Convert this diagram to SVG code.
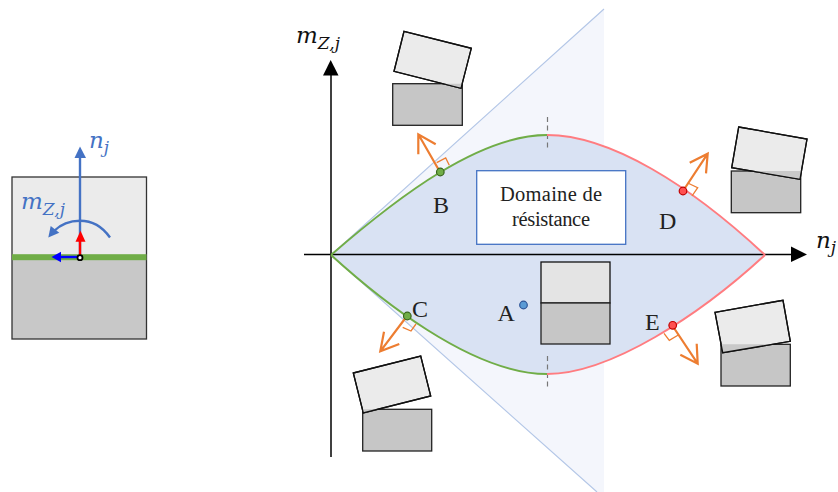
<svg xmlns="http://www.w3.org/2000/svg" width="838" height="492" viewBox="0 0 838 492">
<style>
.lbl{font-family:"Liberation Serif",serif;font-size:24px;fill:#222}
.dom{font-family:"Liberation Serif",serif;font-size:20.5px;fill:#222;text-anchor:middle}
.m{font-family:"DejaVu Serif",serif;font-style:italic;font-size:23px;fill:#111}
.s{font-size:17px}
.lt{fill:#ebebeb;stroke:#111;stroke-width:1.3}
.ol{fill:none;stroke:#111;stroke-width:1.3}
.gr{fill:#c6c6c6;stroke:#222;stroke-width:1.3}
.wd{fill:#c9c9c9}
.or{fill:none;stroke:#ed7d31;stroke-width:2.2}
.sq{fill:none;stroke:#ed7d31;stroke-width:1.3}
.ax{fill:none;stroke:#000;stroke-width:1.5}
.dash{stroke:#777;stroke-width:1.2;stroke-dasharray:5 3.5;fill:none}
</style>
<g id="section-view">
<rect x="12" y="177" width="134.500" height="81" fill="#ebebeb"/>
<rect x="12" y="258" width="134.500" height="81" fill="#c8c8c8"/>
<rect x="12" y="177" width="134.500" height="162" fill="none" stroke="#333" stroke-width="1.300"/>
<rect x="12" y="254.200" width="134.500" height="6" fill="#70ad47"/>
<path d="M80 258V157" stroke="#4472c4" stroke-width="2.400" fill="none"/>
<path d="M80 146.500L86 158H74.500Z" fill="#4472c4"/>
<path d="M110 237.500C102 226 91 220.700 80 220.700C70 220.700 61 224 54 231" stroke="#4472c4" stroke-width="2.400" fill="none"/>
<path d="M48.300 237.500L50.700 226L59.300 232.700Z" fill="#4472c4"/>
<path d="M80 258V240" stroke="#ff0000" stroke-width="2.400" fill="none"/>
<path d="M80.500 230.700L85.500 241.700H75.500Z" fill="#ff0000"/>
<path d="M80 257H60" stroke="#0000ff" stroke-width="2.400" fill="none"/>
<path d="M51.500 257L61 251.700V262.200Z" fill="#0000ff"/>
<circle cx="80" cy="257.700" r="2.500" fill="#fff" stroke="#000" stroke-width="1.800"/>
<text class="m" x="89" y="147.500" style="fill:#4472c4">n<tspan class="s" dy="5">j</tspan></text>
<text class="m" x="21" y="209" style="fill:#4472c4">m<tspan class="s" dy="6">Z,j</tspan></text>
</g>
<g id="domain">
<path id="cone" d="M331 255L604 9V492H597Z" fill="#f4f6fc"/>
<path d="M604 9L331 255L597 492" fill="none" stroke="#b4c7e7" stroke-width="1.200"/>
<path id="lens" d="M331 255C400 195 480 135 547 135C610 135 690 185 765 255C700 315 610 374 547 374C470 374 375 295 331 255Z" fill="#d9e2f3"/>
</g>
<g id="connectors">
<path class="ax" d="M331 457V74"/>
<path d="M330.700 60L338.500 75.500H323Z"/>
<path class="ax" d="M304 254.500H792"/>
<path d="M807 254.500L791 246.500V262Z"/>
<path class="dash" d="M547.500 117V150"/>
<path class="dash" d="M547.500 356V390"/>
<path d="M331 255C400 195 480 135 547 135" fill="none" stroke="#70ad47" stroke-width="2"/>
<path d="M331 255C375 295 470 374 547 374" fill="none" stroke="#70ad47" stroke-width="2"/>
<path d="M547 135C610 135 690 185 765 255" fill="none" stroke="#ff7c80" stroke-width="2"/>
<path d="M547 374C610 374 700 315 765 255" fill="none" stroke="#ff7c80" stroke-width="2"/>
<path class="or" d="M440 172L418.300 134.300M418.300 154.300L418.300 134.300L435.700 144.300"/>
<path class="sq" d="M436.700 162.700L445.700 158L449.300 165.300"/>
<path class="or" d="M683 191L707.700 153.700M689.700 162.700L707.700 153.700L706 173.300"/>
<path class="sq" d="M687.700 183L697.700 187.700L692 196"/>
<path class="or" d="M407 316L380.300 351.300M384 331.700L380.300 351.300L399.300 344"/>
<path class="sq" d="M402.700 327.300L411 331L416 324"/>
<path class="or" d="M672 325L697.700 363.700M696.700 343.700L697.700 363.700L680.300 354.700"/>
<path class="sq" d="M664 333.300L669.300 340.300L678.300 335"/>
</g>
<g id="axis-labels">
<text class="m" x="296" y="43">m<tspan class="s" dy="6">Z,j</tspan></text>
<text class="m" x="816" y="248">n<tspan class="s" dy="5">j</tspan></text>
</g>
<g id="domain-label">
<rect x="476.700" y="170.700" width="149" height="73.600" fill="#fff" stroke="#4472c4" stroke-width="1.300"/>
<text class="dom" x="551" y="201" textLength="102">Domaine de</text>
<text class="dom" x="551" y="226" textLength="78">résistance</text>
</g>
<g id="point-A">
<circle cx="523.500" cy="305" r="3.800" fill="#5b9bd5" stroke="#2f5597" stroke-width="1.200"/>
<text class="lbl" x="497.500" y="321">A</text>
<rect class="lt" x="541" y="262" width="69" height="41" style="fill:#e4e4e4"/>
<rect class="gr" x="541" y="303" width="69" height="41"/>
</g>
<g id="point-B">
<rect class="gr" x="392.700" y="83.700" width="69.600" height="41.600"/>
<path class="lt" d="M404 31.300L471.300 48.300L461 88.300L394 71.300Z"/>
<path class="wd" d="M442.900 83.700H461.800L461 88.300Z"/>
<path class="ol" d="M404 31.300L471.300 48.300L461 88.300L394 71.300Z"/>
<circle cx="440.300" cy="172" r="3.800" fill="#70ad47" stroke="#38651c" stroke-width="1.200"/>
<text class="lbl" x="433" y="213">B</text>
</g>
<g id="point-C">
<rect class="gr" x="362.700" y="409.300" width="69" height="41.700"/>
<path class="lt" d="M353.300 373L420.700 356L430.700 396L363.300 413Z"/>
<path class="wd" d="M378 409.300H362.700L363.300 413Z"/>
<path class="ol" d="M353.300 373L420.700 356L430.700 396L363.300 413Z"/>
<circle cx="407.300" cy="316" r="3.800" fill="#70ad47" stroke="#38651c" stroke-width="1.200"/>
<text class="lbl" x="412" y="316.500">C</text>
</g>
<g id="point-D">
<rect class="gr" x="731.300" y="171" width="69.400" height="41.700"/>
<path class="lt" d="M738.700 127L807 139L800 179.300L731.700 167.700Z"/>
<path class="wd" d="M751 171H801L800 179.300Z"/>
<path class="ol" d="M738.700 127L807 139L800 179.300L731.700 167.700Z"/>
<circle cx="683" cy="191" r="3.800" fill="#ff5050" stroke="#c00000" stroke-width="1.200"/>
<text class="lbl" x="659" y="229">D</text>
</g>
<g id="point-E">
<rect class="gr" x="721" y="344.300" width="69.300" height="41.700"/>
<path class="lt" d="M715 312.300L783 300.300L790.300 341.300L722.700 352.700Z"/>
<path class="wd" d="M772.500 344.300H721.200L722.700 352.700Z"/>
<path class="ol" d="M715 312.300L783 300.300L790.300 341.300L722.700 352.700Z"/>
<circle cx="672.700" cy="325.300" r="3.800" fill="#ff5050" stroke="#c00000" stroke-width="1.200"/>
<text class="lbl" x="645" y="330">E</text>
</g>
</svg>
